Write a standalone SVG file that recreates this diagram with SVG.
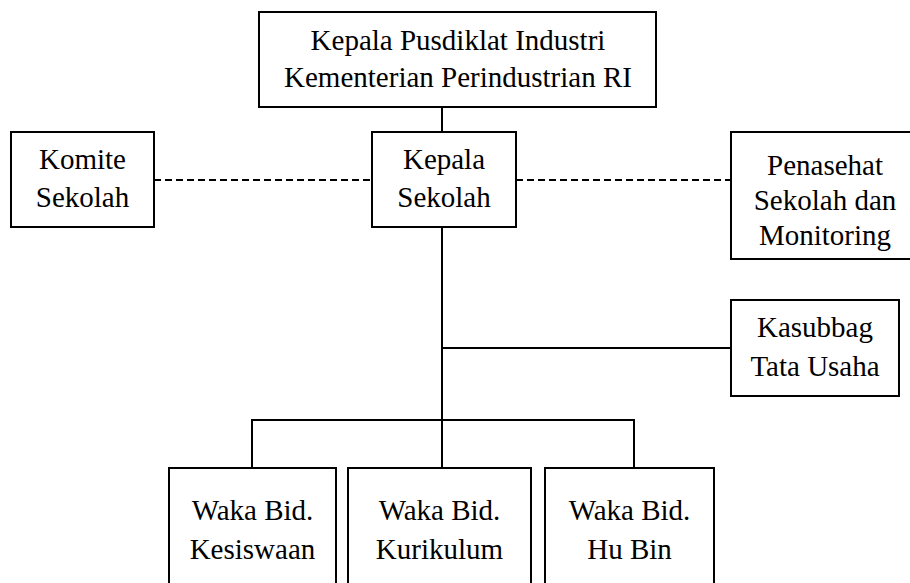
<svg xmlns="http://www.w3.org/2000/svg" width="910" height="583" viewBox="0 0 910 583">
<style>
.box{fill:#fff;stroke:#000;stroke-width:2}
.t{font-size:29px;fill:#000;text-anchor:middle}
.ln{stroke:#000;stroke-width:2;fill:none}
.dash{stroke:#000;stroke-width:2;fill:none;stroke-dasharray:7 4}
</style>
<rect width="910" height="583" fill="#fff"/>
<g id="connectors">
<line class="ln" x1="442" y1="107" x2="442" y2="132"/>
<line class="ln" x1="442" y1="227" x2="442" y2="468"/>
<line class="ln" x1="442" y1="348" x2="731" y2="348"/>
<polyline class="ln" points="252,468 252,420 634,420 634,468"/>
<line class="dash" x1="154" y1="180" x2="372" y2="180"/>
<line class="dash" x1="516" y1="180" x2="731" y2="180"/>
</g>
<g font-family="Liberation Serif, Times New Roman, serif">
<g id="kepala-pusdiklat">
<rect class="box" x="259" y="12" width="397" height="95"/>
<text class="t" x="458" y="50">Kepala Pusdiklat Industri</text>
<text class="t" x="458" y="87">Kementerian Perindustrian RI</text>
</g>
<g id="komite">
<rect class="box" x="11" y="132" width="143" height="95"/>
<text class="t" x="82.5" y="169">Komite</text>
<text class="t" x="82.5" y="207">Sekolah</text>
</g>
<g id="kepala-sekolah">
<rect class="box" x="372" y="132" width="144" height="95"/>
<text class="t" x="444" y="169">Kepala</text>
<text class="t" x="444" y="207">Sekolah</text>
</g>
<g id="penasehat">
<rect class="box" x="731" y="132" width="189" height="127"/>
<text class="t" x="825" y="175">Penasehat</text>
<text class="t" x="825" y="210">Sekolah dan</text>
<text class="t" x="825" y="245">Monitoring</text>
</g>
<g id="kasubbag">
<rect class="box" x="731" y="300" width="168" height="96"/>
<text class="t" x="815" y="337">Kasubbag</text>
<text class="t" x="815" y="376">Tata Usaha</text>
</g>
<g id="waka-kesiswaan">
<rect class="box" x="169" y="468" width="167" height="140"/>
<text class="t" x="252.5" y="520">Waka Bid.</text>
<text class="t" x="252.5" y="559">Kesiswaan</text>
</g>
<g id="waka-kurikulum">
<rect class="box" x="348" y="468" width="183" height="140"/>
<text class="t" x="439.5" y="520">Waka Bid.</text>
<text class="t" x="439.5" y="559">Kurikulum</text>
</g>
<g id="waka-hubin">
<rect class="box" x="545" y="468" width="169" height="140"/>
<text class="t" x="629.5" y="520">Waka Bid.</text>
<text class="t" x="629.5" y="559">Hu Bin</text>
</g>
</g>
</svg>
